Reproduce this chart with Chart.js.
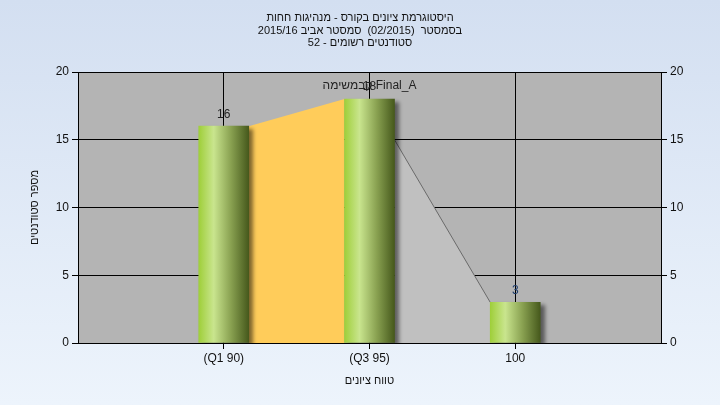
<!DOCTYPE html>
<html>
<head>
<meta charset="utf-8">
<script src="https://cdn.jsdelivr.net/npm/chart.js@4"></script>
<style>
html,body{margin:0;padding:0;width:720px;height:405px;overflow:hidden;}
#wrap{width:720px;height:405px;position:relative;}
</style>
</head>
<body>
<div id="wrap"><canvas id="c" width="720" height="405"></canvas></div>
<script>
// ---- data ----
const titleLines = ['היסטוגרמת ציונים בקורס - מנהיגות חחות', 'בסמסטר  (02/2015)  סמסטר אביב 2015/16', 'סטודנטים רשומים - 52'];
const categories = ['(Q1 90)', '(Q3 95)', '100'];
const students = [16, 18, 3];
const iqrArea = [16, 18];      // yellow band between Q1 and Q3
const tailArea = [15, 3];      // grey band from Q3 to 100
const seriesLabel = 'קבמשימה Final_A';
const yTicks = [0, 5, 10, 15, 20];
const yTitle = 'מספר סטודנטים';
const xTitle = 'טווח ציונים';

const FONT = '"Liberation Sans", Arial, sans-serif';
const barFrac = 0.343;
const barPx = 50;
const labels = [''].concat(categories, ['']);
const barData = [null].concat(students, [null]);
const half = barFrac / 2;
const iqrPts = [{x: 1 + half, y: iqrArea[0]}, {x: 2 - half, y: iqrArea[1]}];
const tailPts = [{x: 2 + half, y: tailArea[0]}, {x: 3 - half, y: tailArea[1]}];

const bgPlugin = {
  id: 'bg',
  beforeDraw(chart) {
    const c = chart.ctx, a = chart.chartArea;
    const g = c.createLinearGradient(0, 0, 0, chart.height);
    g.addColorStop(0, '#d3dff1');
    g.addColorStop(1, '#edf4fc');
    c.save();
    c.fillStyle = g;
    c.fillRect(0, 0, chart.width, chart.height);
    c.fillStyle = '#b4b4b4';
    c.fillRect(a.left, a.top, a.right - a.left, a.bottom - a.top);
    c.restore();
  },
  beforeDatasetDraw(chart, args) {
    if (args.index === 0) {
      const c = chart.ctx;
      c.save();
      c.shadowColor = 'rgba(0,0,0,0.5)';
      c.shadowOffsetX = 4;
      c.shadowOffsetY = 3;
      c.shadowBlur = 4;
    }
  },
  afterDatasetDraw(chart, args) {
    if (args.index === 0) chart.ctx.restore();
  },
  afterDraw(chart) {
    const c = chart.ctx, a = chart.chartArea;
    c.save();
    c.fillStyle = '#111';
    c.font = '11px ' + FONT;
    c.textAlign = 'center';
    c.textBaseline = 'middle';
    titleLines.forEach((t, i) => c.fillText(t, 360, 18 + i * 12.5));
    c.fillText(xTitle, (a.left + a.right) / 2, 381);
    c.save();
    c.translate(35, (a.top + a.bottom) / 2);
    c.rotate(-Math.PI / 2);
    c.fillText(yTitle, 0, 0);
    c.restore();
    c.font = '12px ' + FONT;
    const meta = chart.getDatasetMeta(0);
    meta.data.forEach((el, i) => {
      const v = barData[i];
      if (v == null) return;
      c.fillStyle = i === 3 ? '#1c3c6c' : '#222';
      c.fillText(String(v), el.x, el.y - 12);
    });
    const el2 = meta.data[2];
    c.fillStyle = '#222';
    c.fillText(seriesLabel, el2.x, el2.y - 13);
    c.restore();
  }
};

function barGrad(ctx) {
  const chart = ctx.chart;
  const xs = chart.scales.x;
  if (!xs || ctx.dataIndex == null) return '#9bc244';
  const cx = xs.getPixelForValue(ctx.dataIndex);
  if (!isFinite(cx)) return '#9bc244';
  const w = barPx / 2;
  const g = chart.ctx.createLinearGradient(cx - w, 0, cx + w, 0);
  g.addColorStop(0, '#9fcf3a');
  g.addColorStop(0.3, '#c9e58e');
  g.addColorStop(0.65, '#88a050');
  g.addColorStop(1, '#46591c');
  return g;
}

new Chart(document.getElementById('c'), {
  data: {
    labels: labels,
    datasets: [
      {
        type: 'bar', data: barData, order: 0,
        backgroundColor: barGrad, borderWidth: 0,
        barThickness: barPx, grouped: false,
        xAxisID: 'x', yAxisID: 'y'
      },
      {
        type: 'line', data: iqrPts, order: 2, xAxisID: 'xa', yAxisID: 'y',
        fill: 'origin', backgroundColor: '#ffcc5a', borderColor: 'rgba(0,0,0,0)', borderWidth: 0,
        pointRadius: 0, tension: 0
      },
      {
        type: 'line', data: tailPts, order: 1, xAxisID: 'xa', yAxisID: 'y',
        fill: 'origin', backgroundColor: '#c0c0c0', borderColor: '#6a6a6a', borderWidth: 1,
        pointRadius: 0, tension: 0
      }
    ]
  },
  options: {
    responsive: false,
    animation: false,
    layout: { padding: { top: 72, left: 0, right: 0, bottom: 0 } },
    plugins: { legend: { display: false }, tooltip: { enabled: false }, title: { display: false } },
    scales: {
      x: {
        type: 'category', offset: false,
        afterFit(s) { s.height = 62; },
        grid: { color: '#000', lineWidth: 1, tickLength: 6, offset: false,
          tickColor: (c) => (c.index === 0 || c.index === 4) ? 'rgba(0,0,0,0)' : '#000' },
        border: { color: '#000', width: 1 },
        ticks: { color: '#111', font: { family: FONT, size: 12 }, padding: 2, maxRotation: 0, autoSkip: false }
      },
      xa: {
        type: 'linear', display: false, min: 0, max: labels.length - 1
      },
      y: {
        position: 'left', min: 0, max: 20,
        afterFit(s) { s.width = 78; },
        afterBuildTicks(s) { s.ticks = yTicks.map(v => ({ value: v })); },
        grid: { color: '#000', lineWidth: 1, tickLength: 6 },
        border: { color: '#000', width: 1 },
        ticks: { color: '#111', font: { family: FONT, size: 12 }, padding: 3 }
      },
      y2: {
        position: 'right', min: 0, max: 20,
        afterFit(s) { s.width = 59; },
        afterBuildTicks(s) { s.ticks = yTicks.map(v => ({ value: v })); },
        grid: { drawOnChartArea: false, color: '#000', tickLength: 6 },
        border: { color: '#000', width: 1 },
        ticks: { color: '#111', font: { family: FONT, size: 12 }, padding: 3 }
      }
    }
  },
  plugins: [bgPlugin]
});
</script>
</body>
</html>
